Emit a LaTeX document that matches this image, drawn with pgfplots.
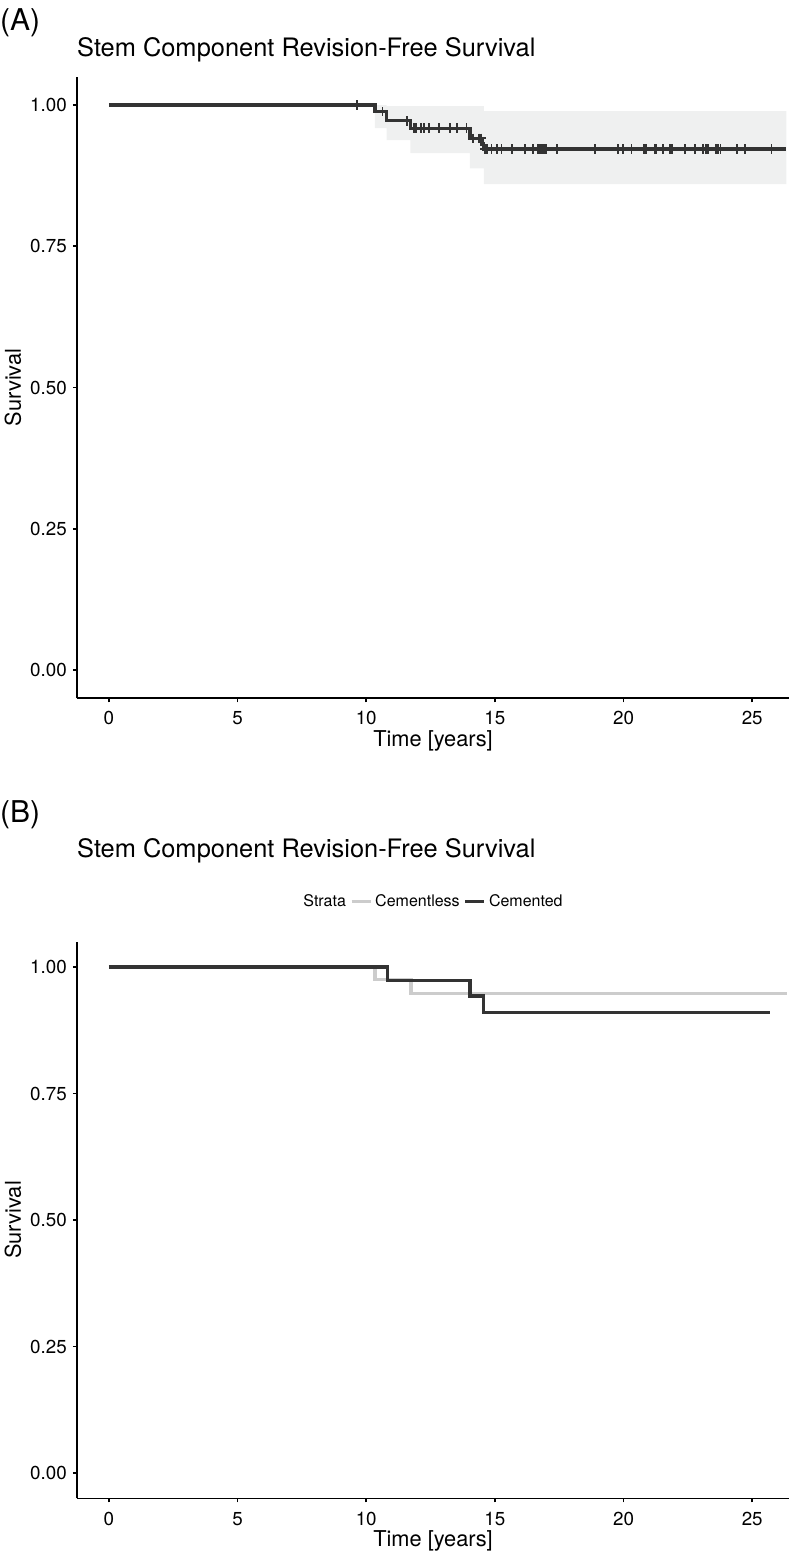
\documentclass[border=0pt]{standalone}
\usepackage{fontspec}
\setmainfont{TeX Gyre Heros}
\usepackage{pgfplots}
\pgfplotsset{compat=1.18}

\definecolor{darkline}{HTML}{333333}
\definecolor{lightline}{HTML}{CCCCCC}
\definecolor{ribbon}{HTML}{EFF0F0}

\newcommand{\ticksize}{\fontsize{18.8}{20}\selectfont}
\newcommand{\labsize}{\fontsize{21.8}{24}\selectfont}
\newcommand{\titsize}{\fontsize{25.4}{27}\selectfont}
\newcommand{\legsize}{\fontsize{16}{18}\selectfont}

\pgfplotsset{
  km/.style={
    scale only axis,
    width=712pt,
    xmin=-1.24, xmax=26.43,
    ymin=-0.05, ymax=1.05,
    axis x line*=bottom, axis y line*=left,
    axis line style={-, line width=1.6pt, black},
    tick style={line width=1.6pt, black},
    tick align=outside,
    major tick length=4pt,
    xtick={0,5,10,15,20,25},
    ytick={0,0.25,0.5,0.75,1},
    /pgf/number format/assume math mode=true,
    xticklabel={\ticksize\pgfmathprintnumber[assume math mode=true]{\tick}},
    yticklabel={\ticksize\pgfmathprintnumber[fixed,fixed zerofill,precision=2,assume math mode=true]{\tick}},
    xticklabel style={anchor=base, inner sep=0pt, yshift=-22.7pt},
    yticklabel style={anchor=east, inner sep=0pt, xshift=-6pt},
    xlabel={Time [years]},
    ylabel={Survival},
    every axis x label/.style={at={(axis description cs:0.5,0)}, anchor=base, inner sep=0pt, yshift=-48.3pt, font=\labsize},
    every axis y label/.style={at={(axis description cs:-0.0899,0.5)}, anchor=center, rotate=90, inner sep=0pt, font=\labsize},
    title={Stem Component Revision-Free Survival},
    clip=true,
  }
}

\begin{document}
\begin{tikzpicture}
\useasboundingbox (0pt,0pt) rectangle (789pt,-1556pt);

% panel A
\node[anchor=base west, inner sep=0pt, font=\fontsize{30}{32}\selectfont] at (0pt,-30.7pt) {(A)};
\begin{axis}[km,
  at={(77pt,-698.25pt)}, anchor=south west,
  height=621.5pt,
  title style={at={(axis description cs:0,1)}, anchor=base west, inner sep=0pt, yshift=14.75pt, font=\titsize},
]
\addplot[fill=ribbon, draw=none] coordinates {
  (10.34,1.000) (10.79,1.000) (10.79,0.998) (14.57,0.998) (14.57,0.989) (26.33,0.989)
  (26.33,0.860) (14.57,0.860) (14.57,0.888) (14.03,0.888) (14.03,0.915) (11.72,0.915)
  (11.72,0.938) (10.79,0.938) (10.79,0.959) (10.34,0.959)
} -- cycle;
\addplot[const plot, darkline, line width=3.3pt] coordinates {
  (0,1.000) (10.34,0.988) (10.79,0.972) (11.72,0.959) (14.03,0.941) (14.50,0.931) (14.57,0.922) (26.33,0.922)
};
% censored observations
\addplot[only marks, mark=+, mark size=4.7pt, darkline, mark options={line width=1.8pt}] coordinates {
  (9.65,1.000)
  (10.63,0.988)
  (11.57,0.972)
  (11.85,0.959) (11.93,0.959) (12.13,0.959) (12.26,0.959) (12.45,0.959) (12.84,0.959)
  (13.25,0.959) (13.54,0.959) (13.90,0.959)
  (14.16,0.941) (14.39,0.941) (14.46,0.941)
  (14.61,0.922) (14.68,0.922) (14.87,0.922) (15.07,0.922) (15.26,0.922) (15.65,0.922)
  (16.17,0.922) (16.49,0.922) (16.68,0.922) (16.75,0.922) (16.82,0.922) (16.91,0.922)
  (16.99,0.922) (17.40,0.922) (18.89,0.922) (19.79,0.922) (19.99,0.922) (20.31,0.922)
  (20.79,0.922) (20.87,0.922) (21.22,0.922) (21.28,0.922) (21.52,0.922) (21.80,0.922)
  (21.88,0.922) (22.39,0.922) (22.78,0.922) (23.10,0.922) (23.19,0.922) (23.27,0.922)
  (23.59,0.922) (23.68,0.922) (23.77,0.922) (24.40,0.922) (24.72,0.922) (25.75,0.922)
};
\end{axis}

% panel B
\node[anchor=base west, inner sep=0pt, font=\fontsize{30}{32}\selectfont] at (0pt,-822pt) {(B)};
\begin{axis}[km,
  at={(77pt,-1498.3pt)}, anchor=south west,
  height=556.6pt,
  title style={at={(axis description cs:0,1)}, anchor=base west, inner sep=0pt, yshift=78.4pt, font=\titsize},
  legend columns=-1,
  legend style={at={(axis description cs:0.5,1.072)}, anchor=center, draw=none, fill=none, font=\legsize,
    /tikz/every odd column/.append style={column sep=0pt},
    /tikz/every even column/.append style={column sep=1pt},
    nodes={inner xsep=3pt}},
  legend image code/.code={\draw[#1] (0pt,0pt) -- (19pt,0pt);},
]
\addlegendimage{empty legend}
\addlegendentry{Strata\hspace{3pt}}
\addplot[const plot, lightline, line width=3.3pt] coordinates {
  (0,1.000) (10.34,0.976) (11.74,0.948) (26.35,0.948)
};
\addlegendentry{Cementless}
\addplot[const plot, darkline, line width=3.3pt] coordinates {
  (0,1.000) (10.83,0.974) (14.03,0.943) (14.57,0.910) (25.69,0.910)
};
\addlegendentry{Cemented}
\end{axis}
\end{tikzpicture}
\end{document}
